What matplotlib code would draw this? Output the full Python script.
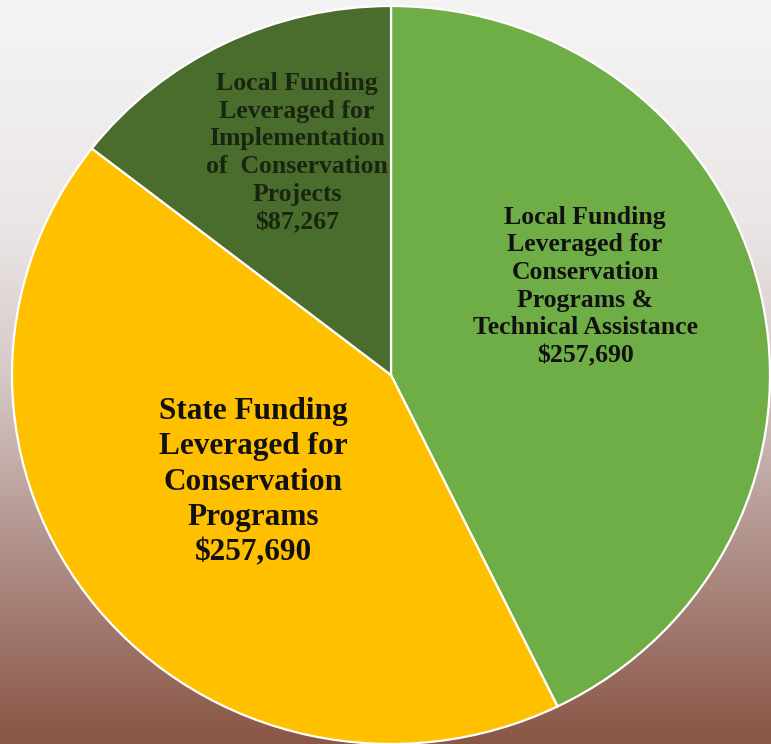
import numpy as np
import matplotlib
matplotlib.use("Agg")
import matplotlib.pyplot as plt
from matplotlib.colors import LinearSegmentedColormap

# Funding sources (dollars)
categories = [
    "Local Funding\nLeveraged for\nConservation\nPrograms &\nTechnical Assistance",
    "State Funding\nLeveraged for\nConservation\nPrograms",
    "Local Funding\nLeveraged for\nImplementation\nof  Conservation\nProjects",
]
amounts = [257690, 257690, 87267]
colors = ["#6fad46", "#ffc000", "#4a6c2c"]

W, H = 771, 744
fig = plt.figure(figsize=(W / 100, H / 100), dpi=100)

# Vertical background gradient: pale grey at the top, warm brown at the bottom
bg = fig.add_axes([0, 0, 1, 1])
bg.set_axis_off()
stops = [(0.0, "#f5f4f4"), (0.30, "#ebe6e6"), (0.50, "#d6cac9"),
         (0.70, "#b69a94"), (0.85, "#a0776c"), (1.0, "#8a5646")]
cmap = LinearSegmentedColormap.from_list("bg", stops)
grad = np.linspace(0, 1, 512).reshape(-1, 1)
bg.imshow(grad, aspect="auto", cmap=cmap, extent=[0, 1, 0, 1], origin="upper")
bg.set_xlim(0, 1)
bg.set_ylim(0, 1)

# Pie axes (slightly wider than tall)
cx, cy, rx, ry = 391, 375, 379, 369
ax = fig.add_axes([(cx - rx) / W, (H - cy - ry) / H, 2 * rx / W, 2 * ry / H])
wedges, _ = ax.pie(amounts, colors=colors, startangle=90, counterclock=False,
                   wedgeprops=dict(edgecolor="white", linewidth=1.6, clip_on=False))
ax.set_aspect("auto")
ax.set_xlim(-1, 1)
ax.set_ylim(-1, 1)
ax.set_axis_off()

def fmt(v):
    return "${:,}".format(v)

font = "Liberation Serif"
ax.text(0.512, 0.24, categories[0] + "\n" + fmt(amounts[0]), ha="center", va="center",
        fontsize=18.5, fontweight="bold", family=font, linespacing=1.26, color="#111111")
ax.text(-0.364, -0.29, categories[1] + "\n" + fmt(amounts[1]), ha="center", va="center",
        fontsize=22.5, fontweight="bold", family=font, linespacing=1.29, color="#111111")
ax.text(-0.248, 0.602, categories[2] + "\n" + fmt(amounts[2]), ha="center", va="center",
        fontsize=18.5, fontweight="bold", family=font, linespacing=1.27, color="#18260f")

fig.savefig("out.png", dpi=100)
